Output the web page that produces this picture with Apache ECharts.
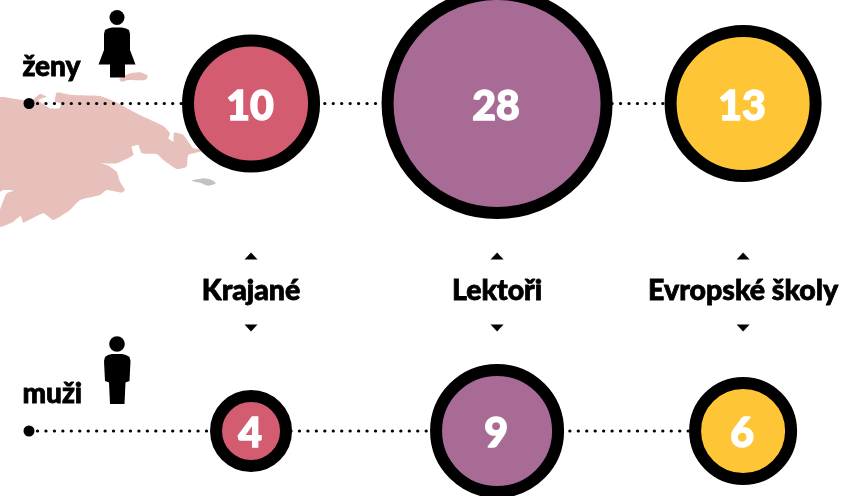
<!DOCTYPE html>
<html><head><meta charset="utf-8">
<style>html,body{margin:0;padding:0;background:#fff}#c{width:843px;height:496px}</style>
<script src="https://cdn.jsdelivr.net/npm/echarts@6/dist/echarts.min.js"></script></head>
<body><div id="c"></div>
<script>
var categories = ['Krajané', 'Lektoři', 'Evropské školy'];
var rowNames = ['ženy', 'muži'];
var women = [10, 28, 13];
var men = [4, 9, 6];

// presentation
var colors = ['#d35c70', '#a76b96', '#fec637'];
var FONT = 'Lato, "Noto Sans", sans-serif';
var RING = 12;
var fillRadius = {4: 29, 6: 42, 9: 55, 10: 57, 13: 66.5, 28: 103.5};
var rowY = {'ženy': 1, 'muži': 0};
var colX = [1, 2, 3];
var LINE_START = 0.0976, LABEL_Y = 0.4275, UP_Y = 0.534, DOWN_Y = 0.3145;
var xMin = -0.0203, xMax = 3.406, yMin = -0.1985, yMax = 1.316;

var mapMain = [[0,293],[40,296],[75,300],[100,298],[120,282],[140,290],[115,300],[150,325],[178,325],[182,310],[165,305],[170,278],[215,285],[300,288],[345,305],[420,345],[490,378],[510,400],[505,415],[520,425],[522,398],[550,405],[580,445],[620,450],[565,465],[560,500],[530,507],[490,480],[470,462],[425,460],[415,435],[395,440],[400,465],[350,490],[305,490],[325,497],[350,515],[360,545],[375,570],[365,578],[320,570],[300,585],[240,600],[210,630],[160,660],[130,640],[70,668],[62,648],[40,665],[0,680],[0,630],[20,580],[40,572],[10,570],[0,575]];
var mapIsle = [[358,238],[385,222],[420,217],[443,228],[435,240],[385,240],[365,245]];
var mapGrey = [[575,543],[610,535],[635,540],[647,550],[625,557],[600,548]];
function third(p){return p.map(function(q){return [q[0]/3,q[1]/3];});}

var womanBody = [[108,28.5],[112,27.5],[122,27.5],[126,28.5],[129,30],[130,34],[130,50],[135.5,64.5],[125,64.5],[125,77.5],[110,77.5],[110,64.5],[98.5,64.5],[104,50],[104,34],[105,30]];
var manBody = [[108,355],[112,354],[122,354],[126,355],[129.5,357],[130.5,361],[129.5,381],[125.5,382.5],[124.5,404],[110,404],[109,382.5],[105,381],[104,361],[105,357]];

function bubble(row, values){
  return {
    type: 'scatter', z: 5,
    symbolSize: function(d){ return 2 * (fillRadius[d[2]] + RING / 2); },
    itemStyle: {borderColor: '#000', borderWidth: RING, opacity: 1,
      color: function(p){ return colors[p.dataIndex]; }},
    label: {show: true, position: 'inside', offset: [-1, 3], color: '#fff', fontFamily: FONT, fontWeight: 900, fontSize: 41,
      textBorderColor: '#fff', textBorderWidth: 1.4,
      formatter: function(p){ return String(p.value[2]); }},
    data: values.map(function(v, i){ return [colX[i], rowY[row], v]; })
  };
}
function dotted(row, values){
  return {type: 'line', z: 2, symbol: 'none', silent: true,
    lineStyle: {color: '#000', width: 3.2, type: [0.1, 8.35], cap: 'round'},
    data: [[LINE_START, rowY[row]]].concat(values.map(function(v, i){ return [colX[i], rowY[row]]; }))};
}
function startDot(){
  return {type: 'scatter', z: 3, symbolSize: 11, itemStyle: {color: '#000', opacity: 1},
    label: {show: false},
    data: rowNames.map(function(r){ return [LINE_START, rowY[r]]; })};
}
function arrows(y, rot){
  return {type: 'scatter', z: 3, symbol: 'triangle', symbolSize: [13, 7], symbolRotate: rot, itemStyle: {color: '#000', opacity: 1},
    data: colX.map(function(x){ return [x, y]; })};
}
var chart = echarts.init(document.getElementById('c'), null, {renderer: 'canvas'});
chart.setOption({
  animation: false, backgroundColor: '#fff',
  grid: {left: 0, right: 0, top: 0, bottom: 0},
  xAxis: {type: 'value', min: xMin, max: xMax, show: false},
  yAxis: {type: 'value', min: yMin, max: yMax, show: false},
  graphic: [
    {type: 'polygon', z: 0, shape: {points: third(mapMain), smooth: 0.15}, style: {fill: '#e8c0bb'}},
    {type: 'polygon', z: 0, shape: {points: third(mapIsle), smooth: 0.3}, style: {fill: '#e8c0bb'}},
    {type: 'polygon', z: 0, shape: {points: third(mapGrey), smooth: 0.3}, style: {fill: '#c2c2c2'}},
    {type: 'circle', z: 1, shape: {cx: 117, cy: 17.5, r: 7.5}, style: {fill: '#000'}},
    {type: 'polygon', z: 1, shape: {points: womanBody}, style: {fill: '#000'}},
    {type: 'circle', z: 1, shape: {cx: 117, cy: 344, r: 7.8}, style: {fill: '#000'}},
    {type: 'polygon', z: 1, shape: {points: manBody}, style: {fill: '#000'}},
    {type: 'text', z: 1, left: 22, top: 53, style: {text: rowNames[0], font: '900 28px ' + FONT, fill: '#000', stroke: '#000', lineWidth: 0.8}},
    {type: 'text', z: 1, left: 22, top: 380, style: {text: rowNames[1], font: '900 28px ' + FONT, fill: '#000', stroke: '#000', lineWidth: 0.8}}
  ],
  series: [
    dotted('ženy', women), dotted('muži', men), startDot(),
    bubble('ženy', women), bubble('muži', men),
    arrows(UP_Y, 0), arrows(DOWN_Y, 180),
    {type: 'scatter', z: 3, symbol: 'circle', symbolSize: 1, itemStyle: {color: '#fff', opacity: 1},
     label: {show: true, position: 'inside', color: '#000', fontFamily: FONT, fontWeight: 900, fontSize: 28.5,
       textBorderColor: '#000', textBorderWidth: 0.8,
       formatter: function(p){ return categories[p.dataIndex]; }},
     data: colX.map(function(x){ return [x, LABEL_Y]; })}
  ]
});
</script></body></html>
